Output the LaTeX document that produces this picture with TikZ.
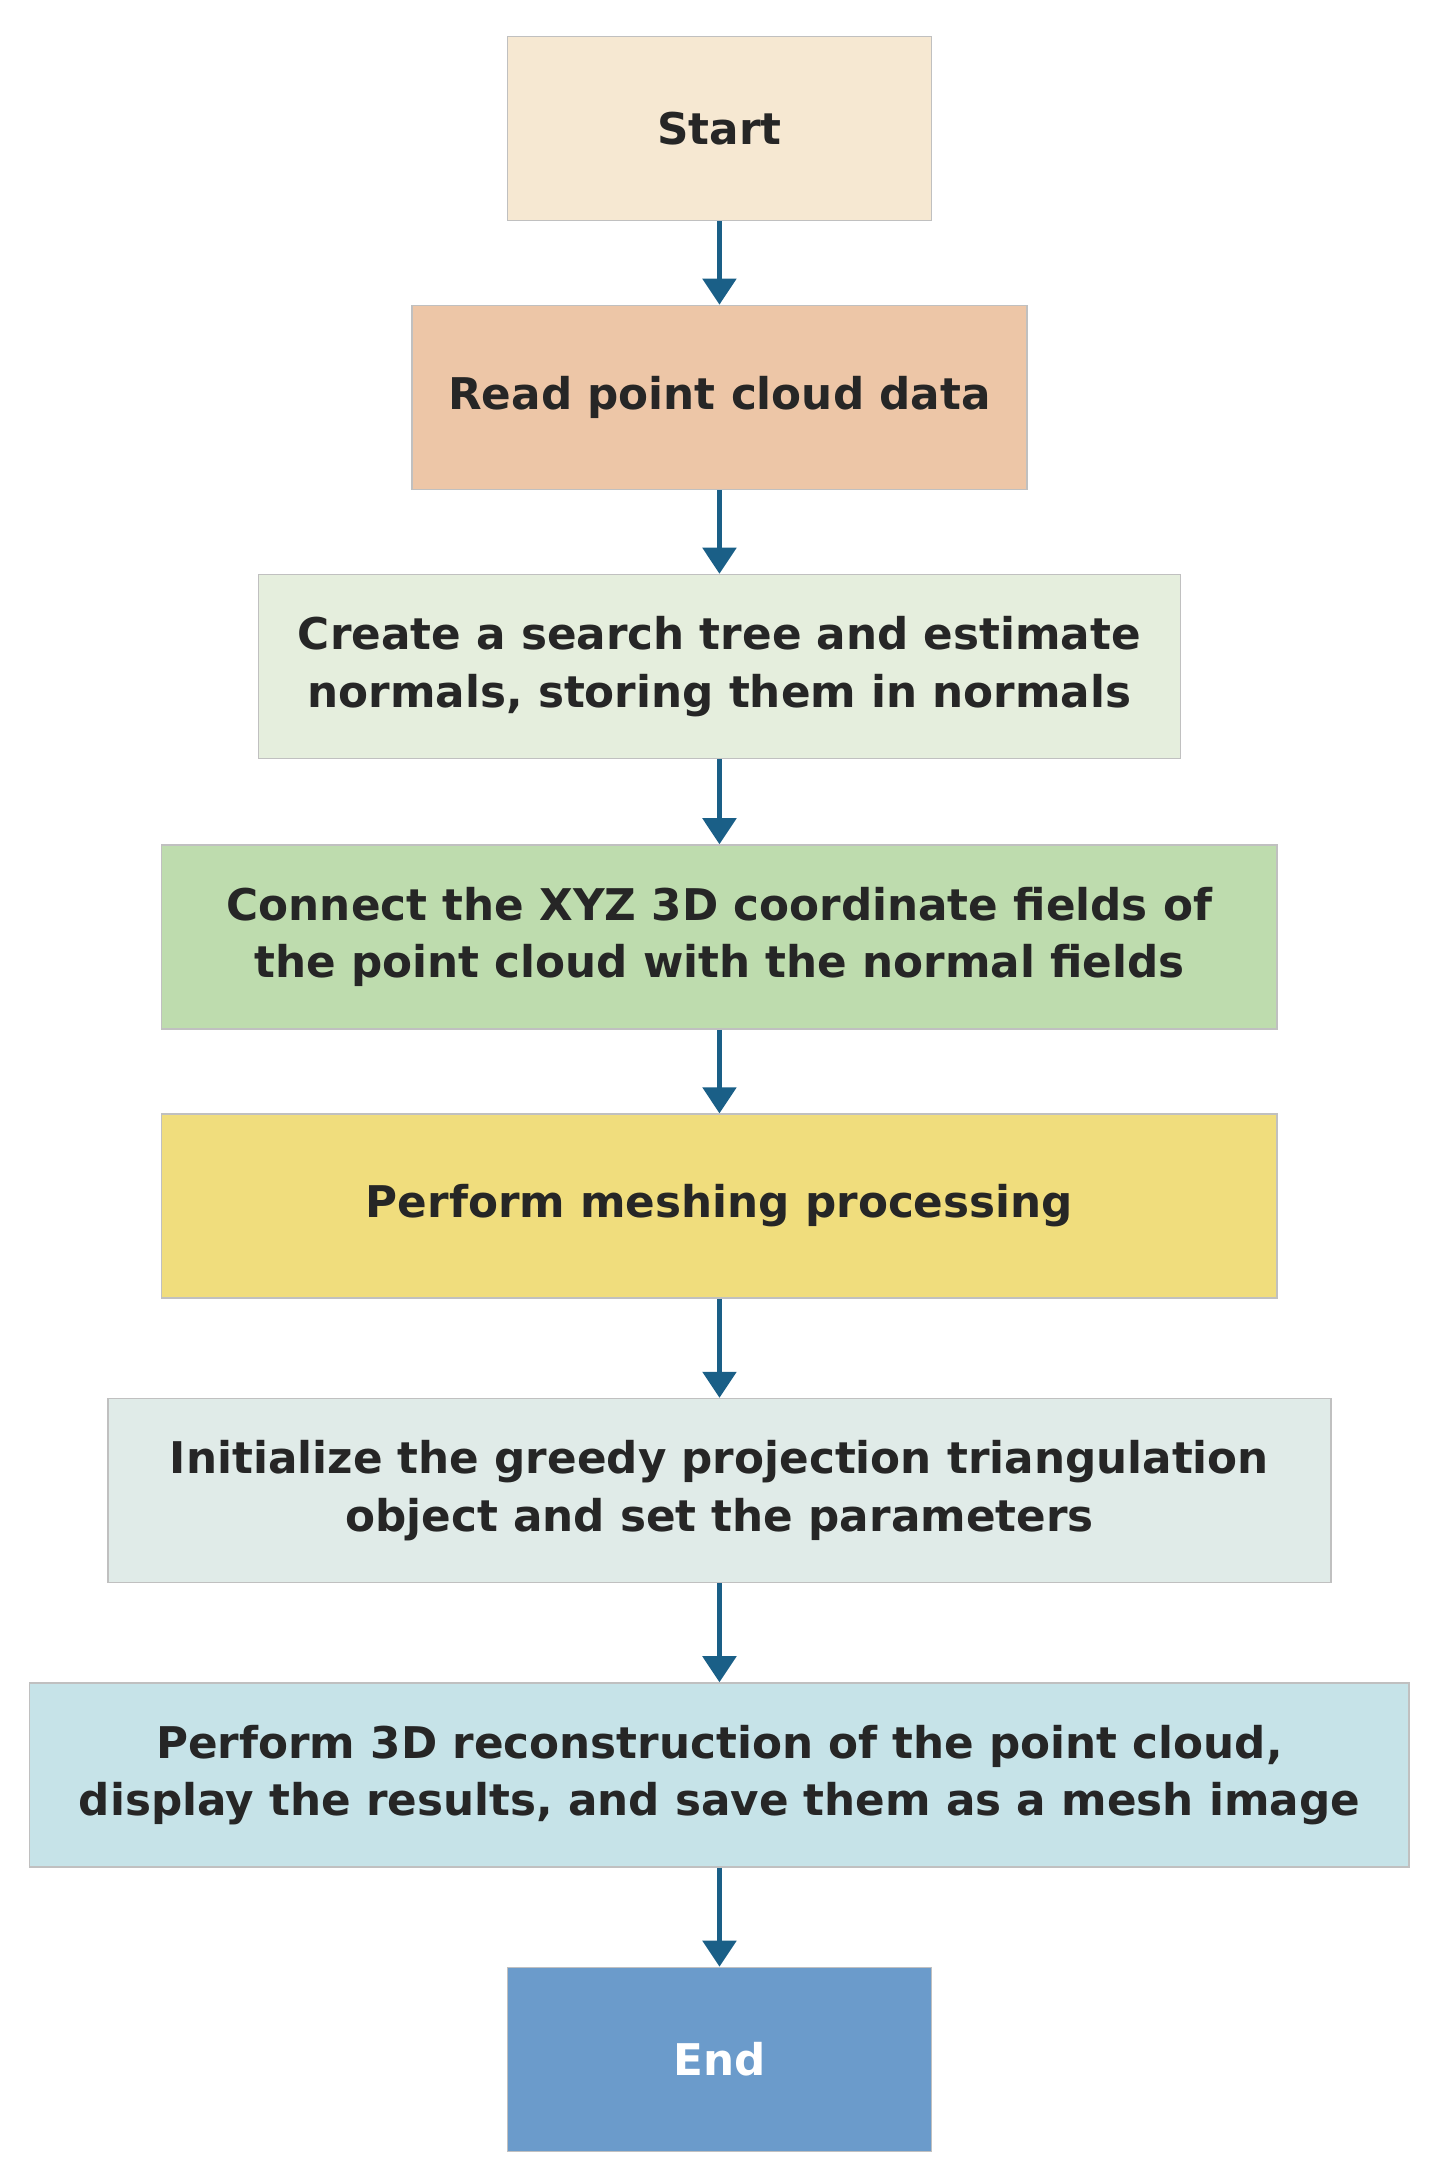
\documentclass[tikz,border=0pt]{standalone}
\usepackage{fontspec}
\setmainfont{DejaVu Sans}
\usetikzlibrary{arrows.meta}
\definecolor{c1}{HTML}{F6E8D2}\definecolor{c2}{HTML}{EDC6A7}\definecolor{c3}{HTML}{E5EEDD}
\definecolor{c4}{HTML}{BEDCAE}\definecolor{c5}{HTML}{F0DD7D}\definecolor{c6}{HTML}{E0EBE8}
\definecolor{c7}{HTML}{C6E3E8}\definecolor{c8}{HTML}{6B9BCB}\definecolor{arr}{HTML}{1A5F87}
\definecolor{txt}{HTML}{262626}
\begin{document}
\begin{tikzpicture}[x=0.75pt,y=-0.75pt,
 box/.style={draw={rgb,255:red,192;green,192;blue,192},line width=0.8pt,minimum height=99pt,align=center,
   font=\fontsize{23.5}{31}\selectfont\bfseries,text=txt,inner sep=0pt},
 ar/.style={draw=arr,line width=2.2pt,-{Triangle[length=14pt,width=18pt]}}]
\useasboundingbox (0,0) rectangle (1040,1552);
\node[box,fill=c1,minimum width=228pt] (a) at (516,92) {Start};
\node[box,fill=c2,minimum width=331pt] (b) at (516,285) {Read point cloud data};
\node[box,fill=c3,minimum width=496pt] (c) at (516,478) {Create a search tree and estimate\\normals, storing them in normals};
\node[box,fill=c4,minimum width=600pt] (d) at (516,672) {Connect the XYZ 3D coordinate fields of\\the point cloud with the normal fields};
\node[box,fill=c5,minimum width=600pt] (e) at (516,865) {Perform meshing processing};
\node[box,fill=c6,minimum width=658pt] (f) at (516,1069) {Initialize the greedy projection triangulation\\object and set the parameters};
\node[box,fill=c7,minimum width=742pt] (g) at (516,1273) {Perform 3D reconstruction of the point cloud,\\display the results, and save them as a mesh image};
\node[box,fill=c8,minimum width=228pt,text=white] (h) at (516,1477) {End};
\foreach \p/\q in {a/b,b/c,c/d,d/e,e/f,f/g,g/h} \draw[ar] (\p) -- (\q);
\end{tikzpicture}
\end{document}
